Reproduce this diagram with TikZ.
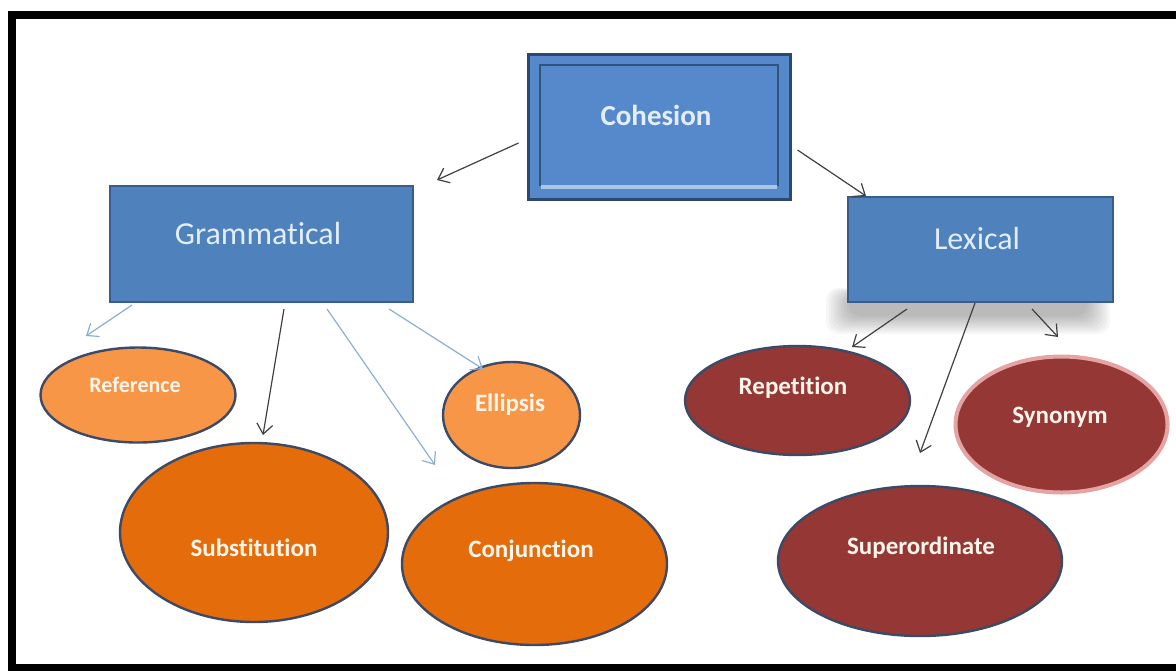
\documentclass[tikz,border=0pt]{standalone}
\usepackage{fontspec}
\setmainfont{Carlito}[Ligatures=NoCommon]
\usetikzlibrary{arrows.meta, shapes.geometric, calc}

\definecolor{boxblue}{HTML}{4F81BD}
\definecolor{cohblue}{HTML}{5589CB}
\definecolor{boxline}{HTML}{385D8A}
\definecolor{boxtext}{HTML}{E3EEFA}
\definecolor{lightorange}{HTML}{F79646}
\definecolor{darkorange}{HTML}{E46C0A}
\definecolor{darkred}{HTML}{953735}
\definecolor{ellline}{HTML}{3C4A66}
\definecolor{arrowblue}{HTML}{8AAED8}
\definecolor{synglow}{HTML}{E6A3A3}

\tikzset{
  blubox/.style={rectangle, draw=boxline, line width=1pt, fill=boxblue, inner sep=0pt},
  boxtxt/.style={text=boxtext, font=\fontsize{16}{18}\selectfont},
  lightell/.style={ellipse, draw=ellline, line width=1.2pt, fill=lightorange, inner sep=0pt},
  darkell/.style={lightell, fill=darkorange},
  redell/.style={lightell, fill=darkred},
  elltxt/.style={text=white!92!orange, font=\bfseries\fontsize{12.5}{14}\selectfont},
  darr/.style={-{Straight Barb[length=5pt,width=8pt]}, draw=black!75, line width=0.6pt},
  barr/.style={darr, draw=arrowblue}
}

\begin{document}
\begin{tikzpicture}[x=0.5pt, y=-0.5pt]
  \useasboundingbox (0,0) rectangle (1176,670);

  % frame
  \draw[line width=4pt] (1190,15) -- (12,15) -- (12,668) -- (1190,668);

  % top box
  \node[blubox, fill=cohblue, draw=boxline!80!black, line width=1.5pt,
        minimum width=131pt, minimum height=72.5pt] (coh) at (659,127) {};
  \draw[boxline!90!black, line width=0.8pt] (540,186) -- (540,65) -- (778,65) -- (778,186);
  \draw[boxtext!60!cohblue, line width=2pt] (541,187) -- (777,187);
  \node[boxtxt, font=\bfseries\fontsize{14.5}{16}\selectfont] (coh-t) at (656,115) {Cohesion};

  % second level
  \node[blubox, minimum width=151.5pt, minimum height=58pt] (gram) at (261.5,244) {};
  \node[boxtxt] (gram-t) at (258,233) {Grammatical};
  % soft shadow under lexical
  \foreach \i in {0,...,9}
    \fill[black, opacity=0.03, rounded corners=6pt]
      (826+\i*2.5,288+\i*0.8) rectangle (1110-\i*2.5,334-\i*2);
  \node[blubox, minimum width=132.5pt, minimum height=52.5pt] (lex) at (980.5,249.5) {};
  \node[boxtxt] (lex-t) at (977,238) {Lexical};

  % grammatical ellipses
  \node[lightell, minimum width=97.5pt, minimum height=47.5pt] (ref) at (138,395) {};
  \node[elltxt, font=\bfseries\fontsize{11}{13}\selectfont] (ref-t) at (135,385) {Reference};
  \node[darkell, minimum width=134pt, minimum height=89.5pt] (sub) at (254,532.5) {};
  \node[elltxt] (sub-t) at (254,548) {Substitution};
  \node[darkell, minimum width=132.5pt, minimum height=81pt] (conj) at (534.5,564) {};
  \node[elltxt] (conj-t) at (531,551) {Conjunction};
  \node[lightell, minimum width=68.5pt, minimum height=53pt] (ell) at (511.5,415) {};
  \node[elltxt] (ell-t) at (510,405) {Ellipsis};

  % lexical ellipses
  \node[redell, minimum width=112.5pt, minimum height=54.5pt] (rep) at (797.5,400.5) {};
  \node[elltxt] (rep-t) at (793,388) {Repetition};
  \node[redell, draw=synglow, line width=2pt, minimum width=106pt, minimum height=68pt] (syn) at (1061.5,424.5) {};
  \node[elltxt] (syn-t) at (1060,417) {Synonym};
  \node[redell, minimum width=142pt, minimum height=75pt] (sup) at (920,561) {};
  \node[elltxt] (sup-t) at (921,548) {Superordinate};

  % arrow heads
  \coordinate (gram-in) at (437,180);
  \coordinate (lex-in) at (866,196);
  \coordinate (ref-in) at (86,336);
  \coordinate (sub-in) at (263,435);
  \coordinate (conj-in) at (435,465);
  \coordinate (ell-in) at (483,369);
  \coordinate (rep-in) at (852,347);
  \coordinate (sup-in) at (920,453);
  \coordinate (syn-in) at (1058,337);

  % connectors
  \draw[darr] ($(coh.west)+(-8,16)$) -- (gram-in);
  \draw[darr] ($(coh.east)+(6,23)$) -- (lex-in);
  \draw[barr] ($(gram.south west)+(23,2)$) -- (ref-in);
  \draw[darr] ($(gram.south west)+(175,6)$) -- (sub-in);
  \draw[barr] ($(gram.south west)+(218,6)$) -- (conj-in);
  \draw[barr] ($(gram.south west)+(280,6)$) -- (ell-in);
  \draw[darr] ($(lex.south west)+(60,6)$) -- (rep-in);
  \draw[darr] ($(lex.south west)+(128,0)$) -- (sup-in);
  \draw[darr] ($(lex.south west)+(185,6)$) -- (syn-in);
\end{tikzpicture}
\end{document}
